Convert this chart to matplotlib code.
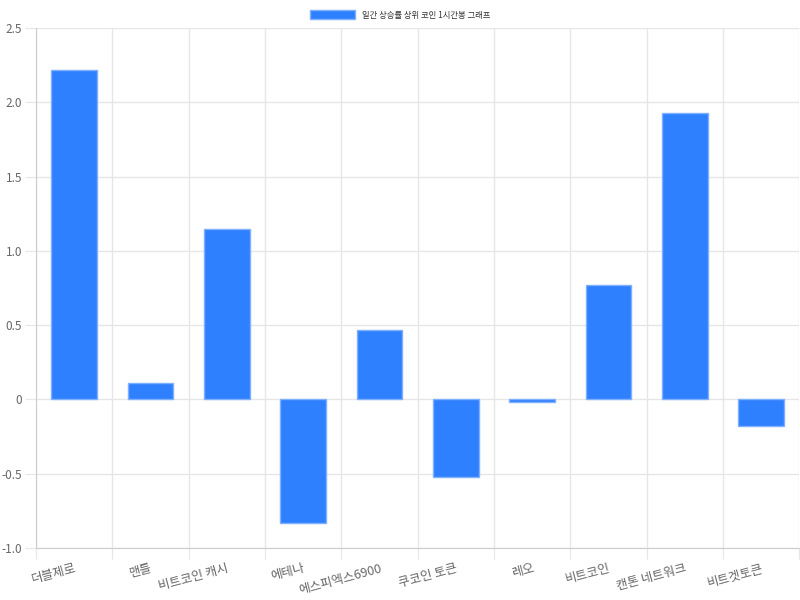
import numpy as np
import matplotlib
matplotlib.use("Agg")
import matplotlib.pyplot as plt
from matplotlib.patches import Patch

plt.rcParams['font.family'] = ['Noto Sans CJK KR', 'DejaVu Sans']

# 데이터
coins = ['더블제로', '맨틀', '비트코인 캐시', '에테나', '에스피엑스6900',
         '쿠코인 토큰', '레오', '비트코인', '캔톤 네트워크', '비트겟토큰']
changes = [2.22, 0.11, 1.15, -0.83, 0.47, -0.52, -0.02, 0.77, 1.93, -0.18]
y_ticks = [-1.0, -0.5, 0, 0.5, 1.0, 1.5, 2.0, 2.5]
y_labels = ['-1.0', '-0.5', '0', '0.5', '1.0', '1.5', '2.0', '2.5']
legend_label = '일간 상승률 상위 코인 1시간봉 그래프'

bar_color = '#2f80ff'
edge_color = '#7eb0ff'
grid_color = '#e6e6e6'
text_color = '#666666'

fig = plt.figure(figsize=(8, 6), dpi=100)
ax = fig.add_axes([0.045, 0.0867, 0.954, 0.8667])

x = np.arange(len(coins))
ax.bar(x, changes, width=0.6, color=bar_color, edgecolor=edge_color,
       linewidth=1.0, zorder=3)

ax.set_xlim(-0.5, len(coins) - 0.5)
ax.set_ylim(-1.0, 2.5)

# y axis
ax.set_yticks(y_ticks)
ax.set_yticklabels(y_labels)
ax.tick_params(axis='y', length=8, color=grid_color, labelcolor=text_color,
               labelsize=8.5, pad=2)
ax.grid(axis='y', color=grid_color, linewidth=1, zorder=0)

# x axis: grid at boundaries, labels at centers
ax.set_xticks(np.arange(len(coins) + 1) - 0.5)
ax.set_xticklabels([''] * (len(coins) + 1))
ax.tick_params(axis='x', which='major', length=8, color=grid_color)
ax.grid(axis='x', which='major', color=grid_color, linewidth=1, zorder=0)
ax.set_xticks(x, minor=True)
ax.set_xticklabels(coins, minor=True, rotation=15, ha='right', va='top',
                   rotation_mode='anchor')
ax.tick_params(axis='x', which='minor', length=0, labelcolor=text_color,
               labelsize=9, pad=10)

for s in ['top', 'right']:
    ax.spines[s].set_visible(False)
for s in ['left', 'bottom']:
    ax.spines[s].set_color('#cccccc')

handle = Patch(facecolor=bar_color, edgecolor=edge_color, label=legend_label)
fig.legend(handles=[handle], loc='upper center', bbox_to_anchor=(0.5, 0.995),
           frameon=False, fontsize=6, handlelength=5.5, handleheight=1.2,
           labelcolor='#333333')

fig.savefig('out.png', dpi=100)
